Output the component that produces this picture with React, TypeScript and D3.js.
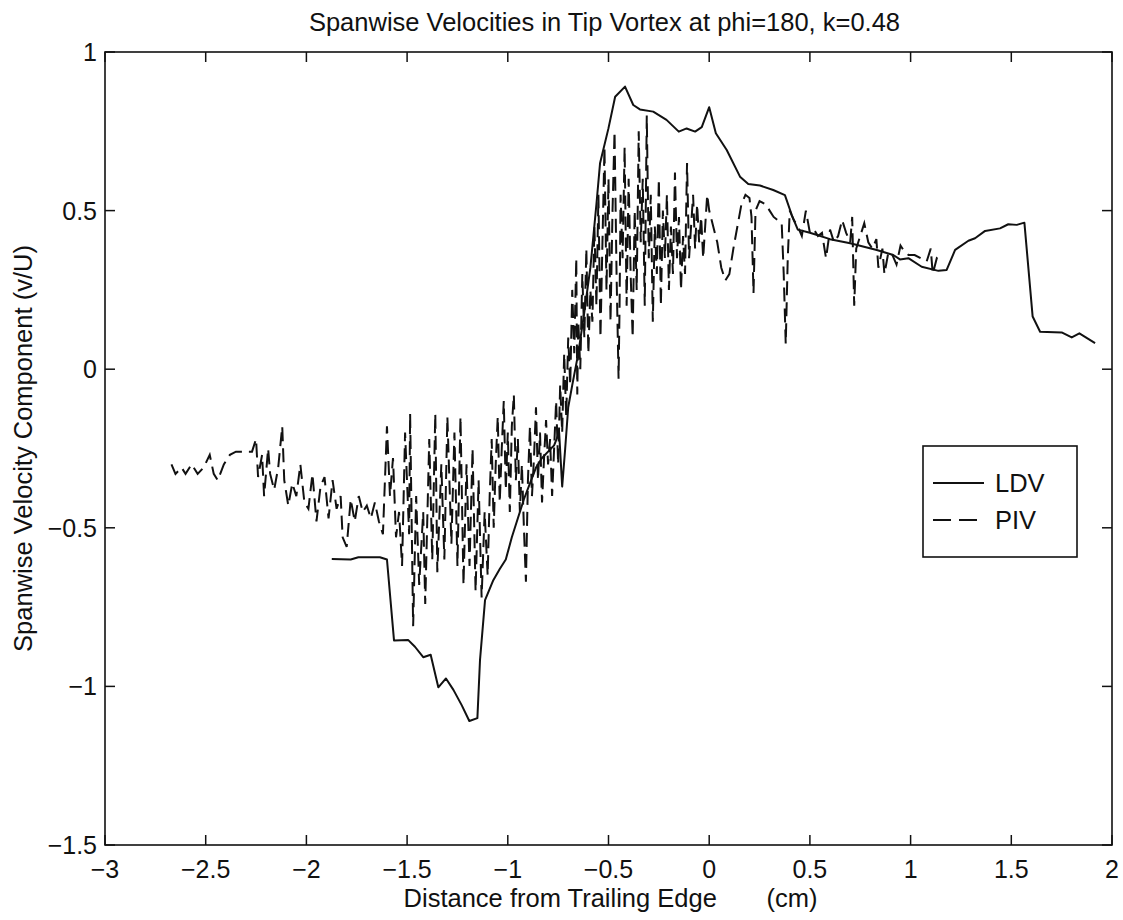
import React from "react";
import * as d3 from "d3";

const W = 1123;
const H = 920;

const titleText = "Spanwise Velocities in Tip Vortex at phi=180, k=0.48";
const xLabelText = "Distance from Trailing Edge       (cm)";
const yLabelText = "Spanwise Velocity Component (v/U)";

const xTicks = [-3, -2.5, -2, -1.5, -1, -0.5, 0, 0.5, 1, 1.5, 2];
const yTicks = [-1.5, -1, -0.5, 0, 0.5, 1];

const legendNames = ["LDV", "PIV"];

// LDV (solid)
const ldv: [number, number][] = [
  [-1.874, -0.598], [-1.78, -0.6], [-1.742, -0.593], [-1.635, -0.593], [-1.6, -0.6],
  [-1.565, -0.855], [-1.494, -0.854], [-1.461, -0.875], [-1.42, -0.908], [-1.383, -0.9],
  [-1.345, -1.003], [-1.307, -0.975], [-1.27, -1.011], [-1.229, -1.059], [-1.191, -1.109],
  [-1.151, -1.1], [-1.138, -0.917], [-1.113, -0.728], [-1.072, -0.665], [-1.04, -0.63],
  [-1.01, -0.6], [-0.98, -0.53], [-0.95, -0.47], [-0.92, -0.41], [-0.89, -0.36],
  [-0.86, -0.31], [-0.83, -0.28], [-0.8, -0.26], [-0.77, -0.24], [-0.745, -0.2],
  [-0.73, -0.37], [-0.715, -0.25], [-0.7, -0.12], [-0.68, -0.05], [-0.65, 0.05],
  [-0.62, 0.18], [-0.59, 0.32], [-0.56, 0.52], [-0.542, 0.649], [-0.5, 0.76],
  [-0.467, 0.859], [-0.418, 0.891], [-0.377, 0.833], [-0.344, 0.819], [-0.278, 0.812],
  [-0.212, 0.786], [-0.151, 0.749], [-0.112, 0.759], [-0.07, 0.749], [-0.037, 0.763],
  [0.0, 0.826], [0.033, 0.744], [0.087, 0.691], [0.153, 0.607], [0.194, 0.584],
  [0.252, 0.579], [0.318, 0.565], [0.376, 0.549], [0.41, 0.486], [0.44, 0.44],
  [0.5, 0.43], [0.6, 0.41], [0.7, 0.397], [0.832, 0.376], [0.914, 0.36],
  [0.947, 0.346], [0.989, 0.35], [1.055, 0.323], [1.138, 0.31], [1.179, 0.313],
  [1.221, 0.376], [1.287, 0.405], [1.32, 0.413], [1.37, 0.436], [1.444, 0.444],
  [1.485, 0.457], [1.527, 0.455], [1.565, 0.462], [1.606, 0.166], [1.643, 0.118],
  [1.75, 0.116], [1.8, 0.1], [1.838, 0.113], [1.916, 0.082],
];

// PIV (dashed)
const piv: [number, number][] = [
  [-2.67, -0.3], [-2.65, -0.33], [-2.62, -0.31], [-2.6, -0.33], [-2.57, -0.3], [-2.54, -0.33],
  [-2.51, -0.31], [-2.48, -0.27], [-2.46, -0.33], [-2.44, -0.35], [-2.41, -0.3], [-2.38, -0.27],
  [-2.35, -0.26], [-2.31, -0.26], [-2.27, -0.26],
  [-2.25, -0.22], [-2.24, -0.34], [-2.22, -0.27], [-2.21, -0.4], [-2.19, -0.25], [-2.18, -0.33],
  [-2.16, -0.38], [-2.14, -0.31], [-2.12, -0.18], [-2.11, -0.35], [-2.09, -0.43], [-2.07, -0.36],
  [-2.05, -0.4], [-2.03, -0.3], [-2.01, -0.42], [-1.99, -0.44], [-1.97, -0.33], [-1.95, -0.48],
  [-1.93, -0.37], [-1.91, -0.34], [-1.89, -0.47], [-1.87, -0.35], [-1.85, -0.44], [-1.83, -0.4],
  [-1.82, -0.53], [-1.8, -0.56], [-1.78, -0.41], [-1.76, -0.48], [-1.74, -0.4], [-1.72, -0.45],
  [-1.7, -0.43], [-1.68, -0.47], [-1.66, -0.42], [-1.64, -0.48], [-1.62, -0.52],
  [-1.6, -0.18], [-1.585, -0.4], [-1.57, -0.28], [-1.555, -0.53], [-1.54, -0.45], [-1.525, -0.62],
  [-1.51, -0.2], [-1.49, -0.52], [-1.485, -0.14], [-1.47, -0.81], [-1.455, -0.4], [-1.44, -0.68],
  [-1.42, -0.45], [-1.41, -0.74], [-1.39, -0.22], [-1.375, -0.6], [-1.36, -0.14], [-1.35, -0.64],
  [-1.33, -0.3], [-1.315, -0.6], [-1.3, -0.15], [-1.28, -0.55], [-1.265, -0.2], [-1.25, -0.62],
  [-1.235, -0.15], [-1.22, -0.68], [-1.205, -0.3], [-1.19, -0.62], [-1.175, -0.25], [-1.16, -0.7],
  [-1.145, -0.35], [-1.13, -0.72], [-1.115, -0.45], [-1.1, -0.65],
  [-1.09, -0.4], [-1.08, -0.22], [-1.07, -0.5], [-1.06, -0.3], [-1.05, -0.15], [-1.04, -0.42],
  [-1.03, -0.25], [-1.02, -0.1], [-1.01, -0.38], [-1.0, -0.2], [-0.99, -0.45], [-0.98, -0.18],
  [-0.97, -0.08], [-0.96, -0.35], [-0.95, -0.22], [-0.94, -0.45], [-0.93, -0.3], [-0.92, -0.5],
  [-0.91, -0.67], [-0.9, -0.35], [-0.89, -0.18], [-0.88, -0.4], [-0.87, -0.28], [-0.86, -0.12],
  [-0.85, -0.35], [-0.84, -0.2], [-0.83, -0.42], [-0.82, -0.28], [-0.81, -0.16], [-0.8, -0.3],
  [-0.79, -0.22], [-0.78, -0.4], [-0.77, -0.25],
  [-0.76, -0.1], [-0.75, -0.3], [-0.74, -0.05], [-0.73, -0.2], [-0.72, 0.05], [-0.71, -0.15],
  [-0.7, 0.1], [-0.69, -0.05], [-0.68, 0.25], [-0.67, 0.05], [-0.66, 0.35], [-0.655, -0.08],
  [-0.65, 0.15], [-0.64, 0.0], [-0.63, 0.3], [-0.62, 0.1], [-0.61, 0.38], [-0.6, 0.05],
  [-0.59, 0.25], [-0.58, 0.15], [-0.57, 0.45], [-0.56, 0.2],
  [-0.55, 0.55], [-0.54, 0.1], [-0.53, 0.4], [-0.52, 0.7], [-0.51, 0.25], [-0.5, 0.6],
  [-0.49, 0.15], [-0.48, 0.5], [-0.47, 0.75], [-0.46, 0.3], [-0.45, -0.03], [-0.445, 0.2],
  [-0.44, 0.55], [-0.43, 0.35], [-0.42, 0.7], [-0.41, 0.2], [-0.4, 0.6], [-0.39, 0.3],
  [-0.38, 0.1], [-0.37, 0.5], [-0.36, 0.25], [-0.35, 0.75], [-0.34, 0.4], [-0.33, 0.6],
  [-0.32, 0.2], [-0.31, 0.8], [-0.3, 0.35], [-0.29, 0.55], [-0.28, 0.15], [-0.27, 0.45],
  [-0.26, 0.3], [-0.25, 0.6], [-0.24, 0.2], [-0.23, 0.5], [-0.22, 0.35], [-0.21, 0.55],
  [-0.2, 0.25], [-0.19, 0.45], [-0.18, 0.3], [-0.17, 0.62], [-0.16, 0.35], [-0.15, 0.48],
  [-0.14, 0.25], [-0.13, 0.42], [-0.12, 0.3], [-0.11, 0.65], [-0.1, 0.35],
  [-0.09, 0.45], [-0.08, 0.55], [-0.07, 0.38], [-0.06, 0.52], [-0.05, 0.4], [-0.04, 0.48],
  [-0.03, 0.35], [-0.02, 0.45], [-0.01, 0.55], [0.0, 0.5], [0.02, 0.45], [0.04, 0.4],
  [0.06, 0.32], [0.08, 0.28], [0.1, 0.3], [0.12, 0.38], [0.14, 0.45], [0.16, 0.52],
  [0.18, 0.55], [0.2, 0.54], [0.21, 0.48], [0.22, 0.24], [0.23, 0.5], [0.25, 0.53],
  [0.28, 0.52], [0.3, 0.5], [0.32, 0.48], [0.34, 0.47], [0.36, 0.46], [0.37, 0.3],
  [0.38, 0.08], [0.39, 0.35], [0.4, 0.5], [0.42, 0.47], [0.44, 0.45],
  [0.46, 0.42], [0.48, 0.5], [0.5, 0.43], [0.52, 0.44], [0.54, 0.42], [0.56, 0.43],
  [0.58, 0.35], [0.6, 0.44], [0.62, 0.4], [0.64, 0.42], [0.66, 0.47], [0.68, 0.43],
  [0.7, 0.4], [0.71, 0.48], [0.72, 0.2], [0.73, 0.38], [0.75, 0.42], [0.77, 0.46],
  [0.79, 0.4], [0.81, 0.38], [0.83, 0.41], [0.84, 0.32], [0.86, 0.38], [0.87, 0.3],
  [0.89, 0.37], [0.91, 0.36], [0.93, 0.33], [0.95, 0.39], [0.97, 0.37], [0.99, 0.36],
  [1.02, 0.36], [1.05, 0.35], [1.08, 0.34], [1.1, 0.38], [1.11, 0.3], [1.13, 0.35],
  [1.15, 0.34],
];

const FONT = "'Liberation Sans', Arial, Helvetica, sans-serif";
const INK = "#111";

export default function App() {
  const left = 105, right = 1112, top = 52, bottom = 845;
  const x = d3.scaleLinear().domain([-3, 2]).range([left, right]);
  const y = d3.scaleLinear().domain([-1.5, 1]).range([bottom, top]);
  const line = d3.line<[number, number]>().x((d) => x(d[0])).y((d) => y(d[1]));
  const fmt = (v: number) => (v < 0 ? "\u2212" + String(Math.abs(v)) : String(v));
  const tickLen = 10;
  const dash = "14,7";

  const lgX = 923, lgY = 446, lgW = 154, lgH = 111;

  return (
    <svg
      width={W}
      height={H}
      viewBox={`0 0 ${W} ${H}`}
      style={{ position: "absolute", left: 0, top: 0, background: "#fff", display: "block" }}
      fontFamily={FONT}
    >
      <rect x={0} y={0} width={W} height={H} fill="#fff" />
      {/* title */}
      <text x={(left + right) / 2 - 4} y={31} textAnchor="middle" fontSize={25.5} fill={INK}>
        {titleText}
      </text>

      {/* data */}
      <path d={line(piv) || ""} fill="none" stroke={INK} strokeWidth={2} strokeDasharray={dash} />
      <path d={line(ldv) || ""} fill="none" stroke={INK} strokeWidth={2} strokeLinejoin="round" />

      {/* frame */}
      <rect x={left} y={top} width={right - left} height={bottom - top} fill="none" stroke={INK} strokeWidth={1.6} />

      {/* x ticks */}
      {xTicks.map((t) => (
        <g key={"xt" + t}>
          <line x1={x(t)} x2={x(t)} y1={bottom} y2={bottom - tickLen} stroke={INK} strokeWidth={1.5} />
          <line x1={x(t)} x2={x(t)} y1={top} y2={top + tickLen} stroke={INK} strokeWidth={1.5} />
          <text x={x(t)} y={878} textAnchor="middle" fontSize={25} fill={INK}>
            {fmt(t)}
          </text>
        </g>
      ))}
      {/* y ticks */}
      {yTicks.map((t) => (
        <g key={"yt" + t}>
          <line x1={left} x2={left + tickLen} y1={y(t)} y2={y(t)} stroke={INK} strokeWidth={1.5} />
          <line x1={right} x2={right - tickLen} y1={y(t)} y2={y(t)} stroke={INK} strokeWidth={1.5} />
          <text x={97} y={y(t) + 9} textAnchor="end" fontSize={25} fill={INK}>
            {fmt(t)}
          </text>
        </g>
      ))}

      {/* axis labels */}
      <text
        x={(left + right) / 2 + 2}
        y={907}
        textAnchor="middle"
        fontSize={25.5}
        fill={INK}
        style={{ whiteSpace: "pre" }}
      >
        {xLabelText}
      </text>
      <text
        transform={`translate(32, ${(top + bottom) / 2}) rotate(-90)`}
        textAnchor="middle"
        fontSize={25.5}
        fill={INK}
      >
        {yLabelText}
      </text>

      {/* legend */}
      <rect x={lgX} y={lgY} width={lgW} height={lgH} fill="#fff" stroke={INK} strokeWidth={1.6} />
      <line x1={933} x2={984} y1={483} y2={483} stroke={INK} strokeWidth={2} />
      <text x={995} y={492} fontSize={25.5} fill={INK}>
        {legendNames[0]}
      </text>
      <line x1={933} x2={984} y1={520} y2={520} stroke={INK} strokeWidth={2} strokeDasharray="18,8" />
      <text x={995} y={529} fontSize={25.5} fill={INK}>
        {legendNames[1]}
      </text>
    </svg>
  );
}
